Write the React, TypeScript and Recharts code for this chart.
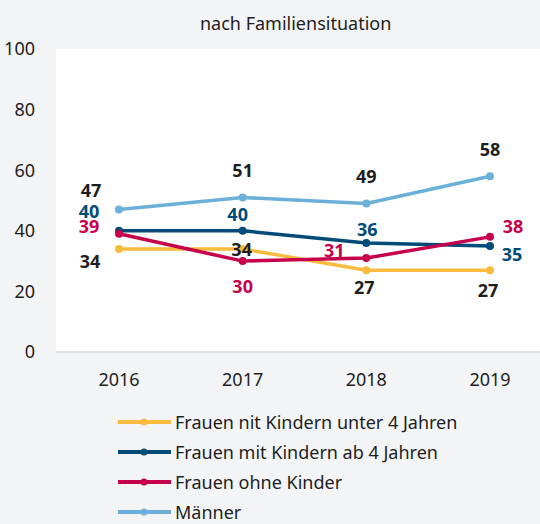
import React from "react";
import { CartesianGrid, LabelList, Legend, Line, LineChart, XAxis, YAxis } from "recharts";

const YEARS = ["2016", "2017", "2018", "2019"];
const UNTER_4 = [34, 34, 27, 27];
const AB_4 = [40, 40, 36, 35];
const OHNE_KINDER = [39, 30, 31, 38];
const MAENNER = [47, 51, 49, 58];
const Y_TICKS = [0, 20, 40, 60, 80, 100];

const FONT = "'Noto Sans', sans-serif";
const FONT_SIZE = 18;
const TEXT = "#1e1e1e";

interface Series {
  key: string;
  name: string;
  color: string;
  labelColor: string;
  // label centre relative to the point, per year
  offsets: [number, number][];
}

const SERIES: Series[] = [
  {
    key: "unter4",
    name: "Frauen nit Kindern unter 4 Jahren",
    color: "#f8bb3d",
    labelColor: TEXT,
    offsets: [[-29, 12], [-1, 0], [-2, 17], [-2, 20]],
  },
  {
    key: "ab4",
    name: "Frauen mit Kindern ab 4 Jahren",
    color: "#004b78",
    labelColor: "#004b78",
    offsets: [[-30, -20], [-5, -17], [1, -14], [22, 8]],
  },
  {
    key: "ohne",
    name: "Frauen ohne Kinder",
    color: "#c6004a",
    labelColor: "#c6004a",
    offsets: [[-30, -8], [0, 25], [-32, -8], [23, -11]],
  },
  {
    key: "maenner",
    name: "Männer",
    color: "#6bb0d8",
    labelColor: TEXT,
    offsets: [[-28, -20], [0, -27], [0, -28], [0, -27]],
  },
];

const data = YEARS.map((year, i) => ({
  year,
  unter4: UNTER_4[i],
  ab4: AB_4[i],
  ohne: OHNE_KINDER[i],
  maenner: MAENNER[i],
}));

const makeLabel = (s: Series) => (props: any) => {
  const { x, y, value, index } = props;
  const [dx, dy] = s.offsets[index] ?? [0, -20];
  return (
    <text
      x={Number(x) + dx}
      y={Number(y) + dy}
      textAnchor="middle"
      dominantBaseline="central"
      fill={s.labelColor}
      fontSize={FONT_SIZE}
      fontWeight={700}
      fontFamily={FONT}
    >
      {value}
    </text>
  );
};

function FamilyLegend() {
  return (
    <div
      style={{
        width: 540,
        height: 117,
        paddingLeft: 118,
        boxSizing: "border-box",
        fontFamily: FONT,
        fontSize: FONT_SIZE,
        color: TEXT,
      }}
    >
      {SERIES.map((s) => (
        <div key={s.key} style={{ display: "flex", alignItems: "center", height: 30 }}>
          <svg width={53} height={10} style={{ display: "block" }}>
            <line x1={0} y1={5} x2={53} y2={5} stroke={s.color} strokeWidth={4} />
            <circle cx={26} cy={5} r={3.5} fill={s.color} />
          </svg>
          <span style={{ marginLeft: 4 }}>{s.name}</span>
        </div>
      ))}
    </div>
  );
}

export default function App() {
  return (
    <div
      style={{
        position: "absolute",
        top: 0,
        left: 0,
        width: 540,
        height: 524,
        overflow: "hidden",
        background: "#f3f4f6",
      }}
    >
      <div
        style={{
          position: "absolute",
          top: 10,
          left: 200,
          lineHeight: "26px",
          fontFamily: FONT,
          fontSize: FONT_SIZE,
          color: TEXT,
          whiteSpace: "nowrap",
        }}
      >
        nach Familiensituation
      </div>
      <LineChart width={540} height={524} data={data} margin={{ top: 49, right: 0, bottom: 0, left: 0 }}>
        <CartesianGrid fill="#ffffff" horizontal={false} vertical={false} stroke="none" />
        <XAxis
          dataKey="year"
          axisLine={{ stroke: "#d9d9d9", strokeWidth: 1.5 }}
          tickLine={false}
          tickMargin={15}
          height={55}
          padding={{ left: 63, right: 50 }}
          tick={{ fontSize: FONT_SIZE, fill: TEXT, fontFamily: FONT }}
        />
        <YAxis
          domain={[0, 100]}
          ticks={Y_TICKS}
          interval={0}
          axisLine={false}
          tickLine={false}
          tickMargin={15}
          width={56}
          tick={{ fontSize: FONT_SIZE, fill: TEXT, fontFamily: FONT }}
        />
        <Legend verticalAlign="bottom" content={() => <FamilyLegend />} />
        {SERIES.map((s) => (
          <Line
            key={s.key}
            dataKey={s.key}
            name={s.name}
            type="linear"
            stroke={s.color}
            strokeWidth={3.5}
            dot={{ r: 4, fill: s.color, stroke: s.color, strokeWidth: 0 }}
            activeDot={false}
            isAnimationActive={false}
          >
            <LabelList dataKey={s.key} content={makeLabel(s)} />
          </Line>
        ))}
      </LineChart>
    </div>
  );
}
